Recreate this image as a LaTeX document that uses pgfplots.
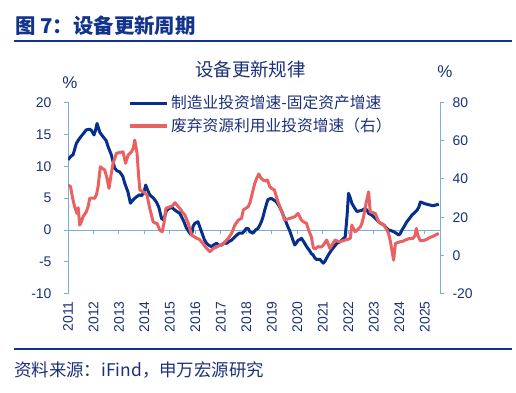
\documentclass[border=0pt]{standalone}
\usepackage{pgfplots}
\pgfplotsset{compat=1.18}
\usepackage{fontspec}
\setmainfont{Liberation Sans}
\newfontfamily\cjk{Noto Sans CJK SC}
\definecolor{navy}{RGB}{8,46,140}
\definecolor{lred}{RGB}{232,98,98}
\definecolor{axblue}{RGB}{125,174,219}
\definecolor{txtblue}{RGB}{28,48,120}
\definecolor{titleblue}{RGB}{18,52,140}

\pgfplotstableread{
x y
2011.00 11.0
2011.10 11.5
2011.20 11.8
2011.33 13.6
2011.46 14.4
2011.60 15.1
2011.72 15.7
2011.85 15.8
2011.92 15.6
2012.02 14.9
2012.08 15.6
2012.14 16.7
2012.25 15.3
2012.38 14.6
2012.50 14.0
2012.57 13.1
2012.70 11.8
2012.83 9.7
2012.92 9.3
2013.03 9.1
2013.15 8.4
2013.23 7.3
2013.35 6.0
2013.45 4.2
2013.57 4.8
2013.69 5.2
2013.80 5.5
2013.90 5.4
2014.00 6.2
2014.05 7.05
2014.12 6.3
2014.21 5.5
2014.35 5.0
2014.47 4.4
2014.57 3.5
2014.67 1.8
2014.75 1.6
2014.87 3.1
2015.06 3.6
2015.20 3.1
2015.39 2.6
2015.55 1.3
2015.65 0.3
2015.78 -0.5
2015.85 -0.8
2015.91 0.6
2015.98 1.05
2016.10 1.3
2016.17 0.5
2016.24 -0.26
2016.35 -1.5
2016.44 -2.1
2016.53 -2.4
2016.63 -2.6
2016.73 -2.3
2016.83 -2.1
2016.93 -2.4
2017.03 -2.35
2017.13 -2.0
2017.22 -2.1
2017.32 -1.8
2017.42 -1.6
2017.52 -1.2
2017.62 -0.8
2017.72 -0.5
2017.85 -0.5
2017.93 -0.1
2018.00 0.26
2018.08 0.2
2018.13 -0.26
2018.26 -0.5
2018.36 0.0
2018.46 0.26
2018.52 0.7
2018.59 1.3
2018.65 2.0
2018.72 3.1
2018.80 4.2
2018.85 4.8
2018.98 4.95
2019.08 4.7
2019.18 4.4
2019.28 3.8
2019.37 3.1
2019.44 2.4
2019.50 1.8
2019.57 1.1
2019.63 0.5
2019.70 -0.1
2019.76 -0.8
2019.83 -1.6
2019.90 -2.35
2019.97 -2.0
2020.03 -1.6
2020.10 -1.5
2020.16 -1.3
2020.23 -1.7
2020.29 -2.1
2020.38 -2.7
2020.46 -3.1
2020.55 -3.7
2020.62 -3.9
2020.69 -4.4
2020.75 -4.6
2020.89 -4.6
2020.95 -4.9
2021.02 -5.2
2021.10 -4.8
2021.15 -4.4
2021.25 -3.7
2021.35 -3.1
2021.45 -2.6
2021.55 -2.1
2021.65 -1.9
2021.75 -1.6
2021.88 -1.05
2021.95 2.1
2022.01 5.75
2022.08 5.0
2022.14 4.2
2022.24 3.5
2022.34 2.9
2022.44 3.0
2022.54 3.1
2022.67 3.4
2022.75 3.0
2022.80 2.6
2022.90 2.4
2022.99 2.1
2023.09 1.7
2023.19 1.3
2023.29 1.0
2023.39 0.8
2023.48 0.4
2023.58 0.0
2023.68 -0.1
2023.78 -0.26
2023.88 -0.5
2023.98 -0.8
2024.05 -0.5
2024.11 0.0
2024.20 0.6
2024.30 1.3
2024.40 1.8
2024.50 2.35
2024.60 2.7
2024.70 3.1
2024.77 3.6
2024.83 4.4
2024.90 4.3
2025.02 4.1
2025.12 4.0
2025.22 3.9
2025.32 3.8
2025.42 3.9
2025.55 4.05
}\mfg

\pgfplotstableread{
x y
2011.00 36.8
2011.10 36.0
2011.18 30.0
2011.26 25.5
2011.35 22.0
2011.40 25.0
2011.46 15.9
2011.52 17.5
2011.59 20.3
2011.65 21.5
2011.72 22.9
2011.80 26.0
2011.85 29.9
2011.95 30.0
2012.05 29.9
2012.12 32.0
2012.18 35.9
2012.27 46.4
2012.35 45.5
2012.44 44.7
2012.52 41.0
2012.61 35.1
2012.70 43.0
2012.77 48.2
2012.90 53.4
2013.03 53.8
2013.16 54.2
2013.26 48.2
2013.36 52.5
2013.49 54.2
2013.56 56.0
2013.62 60.3
2013.71 53.4
2013.77 42.0
2013.82 34.2
2013.95 33.4
2014.10 31.6
2014.21 24.6
2014.34 17.6
2014.42 17.0
2014.50 16.7
2014.60 13.3
2014.70 12.4
2014.78 18.0
2014.84 24.6
2015.00 25.5
2015.10 26.0
2015.20 27.6
2015.30 26.0
2015.39 24.6
2015.50 22.5
2015.59 21.1
2015.72 16.8
2015.85 10.7
2016.05 9.0
2016.15 8.5
2016.24 7.2
2016.34 5.5
2016.44 3.7
2016.57 2.0
2016.70 3.7
2016.80 4.2
2016.90 4.9
2017.00 5.6
2017.10 6.3
2017.23 8.1
2017.32 9.6
2017.42 11.6
2017.55 15.9
2017.68 18.5
2017.81 19.4
2017.88 23.8
2018.07 25.5
2018.14 27.5
2018.20 30.7
2018.27 34.5
2018.33 37.7
2018.41 40.5
2018.49 42.6
2018.57 40.5
2018.66 39.4
2018.75 39.0
2018.83 39.4
2018.92 35.9
2019.00 35.0
2019.10 34.2
2019.24 28.1
2019.37 23.8
2019.50 18.5
2019.60 19.0
2019.70 19.4
2019.80 19.8
2019.90 20.3
2020.03 22.0
2020.16 18.5
2020.26 17.5
2020.36 16.8
2020.45 13.0
2020.55 9.8
2020.63 4.0
2020.70 3.5
2020.82 4.6
2020.95 4.5
2021.02 5.4
2021.15 8.1
2021.28 3.7
2021.38 6.0
2021.48 8.1
2021.58 7.5
2021.68 7.2
2021.78 7.7
2021.88 8.1
2022.00 8.5
2022.08 9.0
2022.14 15.9
2022.27 12.4
2022.37 13.5
2022.47 14.9
2022.54 17.0
2022.60 20.3
2022.70 27.3
2022.80 33.3
2022.86 22.9
2022.96 22.4
2023.06 22.0
2023.19 17.6
2023.29 16.8
2023.39 15.9
2023.49 14.0
2023.58 11.6
2023.66 7.0
2023.71 2.8
2023.78 -2.4
2023.85 6.3
2023.95 6.8
2024.04 7.2
2024.14 7.5
2024.24 8.1
2024.34 8.6
2024.43 9.0
2024.55 9.0
2024.62 10.5
2024.67 14.2
2024.73 10.5
2024.83 7.7
2024.92 7.8
2025.02 8.1
2025.12 8.8
2025.22 9.5
2025.32 10.0
2025.42 10.7
2025.55 11.6
}\waste

\begin{document}
\begin{tikzpicture}
\useasboundingbox (0,0) rectangle (516bp,-393bp);
% header
\node[anchor=base west, inner sep=0, font=\cjk\bfseries\fontsize{20.5}{22}\selectfont, text=titleblue] at (15bp,-33bp) {图 7：设备更新周期};
\draw[titleblue, line width=2.2bp] (14bp,-41bp) -- (512bp,-41bp);
\node[inner sep=0, font=\cjk\fontsize{18.5}{20}\selectfont, text=txtblue] at (250.5bp,-69bp) {设备更新规律};
\node[inner sep=0, font=\fontsize{17}{18}\selectfont, text=txtblue] at (70bp,-83bp) {\%};
\node[inner sep=0, font=\fontsize{17}{18}\selectfont, text=txtblue] at (445bp,-72bp) {\%};

% zero line with ticks
\begin{axis}[
  at={(68bp,-293.8bp)}, anchor=south west,
  scale only axis, width=372bp, height=191.4bp,
  xmin=2011, xmax=2025.6, ymin=-10, ymax=20,
  axis x line=middle, axis y line=none,
  x axis line style={-, axblue, line width=1bp},
  xtick={2011,2012,2013,2014,2015,2016,2017,2018,2019,2020,2021,2022,2023,2024,2025},
  xticklabels={},
  major tick length=4bp,
  xtick align=outside,
  major x tick style={axblue, line width=1bp},
]
\end{axis}

\begin{axis}[
  at={(68bp,-293.8bp)}, anchor=south west,
  scale only axis, width=372bp, height=191.4bp,
  xmin=2011, xmax=2025.6, ymin=-10, ymax=20,
  axis y line*=left, axis x line*=bottom,
  x axis line style={draw=none},
  y axis line style={-, axblue, line width=1bp},
  ytick={-10,-5,0,5,10,15,20},
  xtick={2011,2012,2013,2014,2015,2016,2017,2018,2019,2020,2021,2022,2023,2024,2025},
  /pgf/number format/1000 sep={},
  /pgf/number format/assume math mode=true,
  tick align=outside, major tick length=4bp,
  major x tick style={draw=none},
  major y tick style={axblue, line width=1bp},
  xticklabel style={rotate=90, anchor=east, font=\fontsize{14}{16}\selectfont, text=txtblue},
  yticklabel style={font=\fontsize{14}{16}\selectfont, text=txtblue, xshift=-9bp},
]
\addplot[navy, line width=3bp, line join=round] table[x=x, y=y] {\mfg};
\end{axis}

\begin{axis}[
  at={(68bp,-293.8bp)}, anchor=south west,
  scale only axis, width=372bp, height=191.4bp,
  xmin=2011, xmax=2025.6, ymin=-20, ymax=80,
  axis y line*=right, axis x line=none,
  y axis line style={-, axblue, line width=1bp},
  ytick={-20,0,20,40,60,80},
  /pgf/number format/assume math mode=true,
  tick align=outside, major tick length=4bp,
  major y tick style={axblue, line width=1bp},
  yticklabel style={font=\fontsize{14}{16}\selectfont, text=txtblue, xshift=5bp},
]
\addplot[lred, line width=3bp, line join=round] table[x=x, y=y] {\waste};
\end{axis}

% legend
\draw[navy, line width=3.5bp] (130bp,-103.5bp) -- (167bp,-103.5bp);
\node[anchor=west, inner sep=0, font=\cjk\fontsize{15.8}{18}\selectfont, text=txtblue] at (171bp,-103bp) {制造业投资增速-固定资产增速};
\draw[lred, line width=3.5bp] (130bp,-126bp) -- (167bp,-126bp);
\node[anchor=west, inner sep=0, font=\cjk\fontsize{15.8}{18}\selectfont, text=txtblue] at (171bp,-125.5bp) {废弃资源利用业投资增速（右）};

% footer
\draw[titleblue, line width=2.2bp] (14bp,-349.3bp) -- (512bp,-349.3bp);
\node[anchor=west, inner sep=0, font=\cjk\fontsize{17.5}{19}\selectfont, text=txtblue] at (14bp,-370bp) {资料来源：iFind，申万宏源研究};
\end{tikzpicture}
\end{document}
